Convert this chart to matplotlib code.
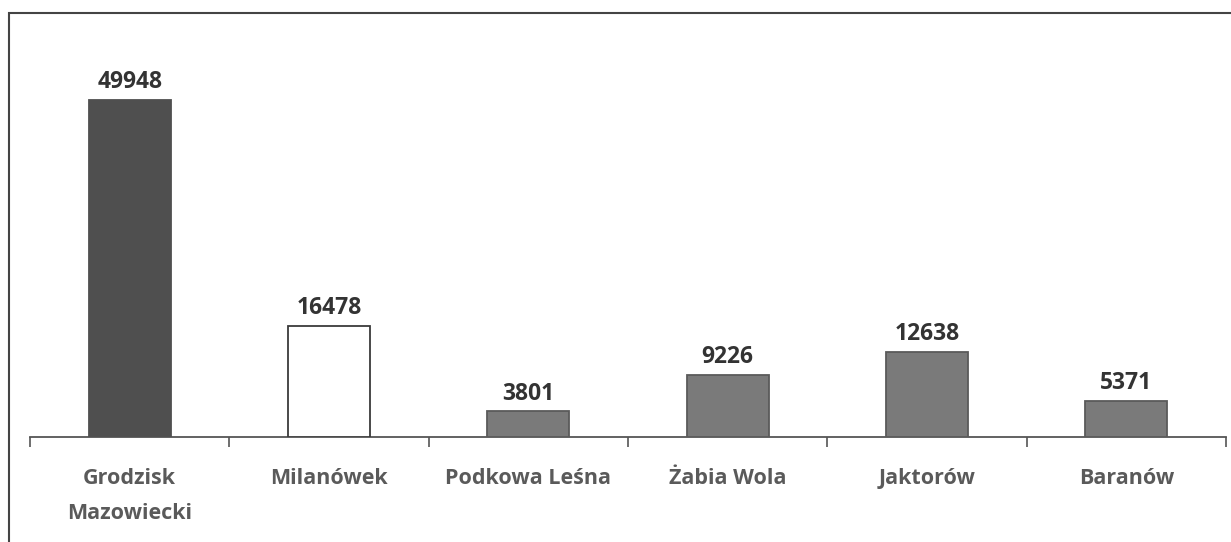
import matplotlib.pyplot as plt
from matplotlib.patches import Rectangle

categories = ["Grodzisk\nMazowiecki", "Milanówek", "Podkowa Leśna", "Żabia Wola", "Jaktorów", "Baranów"]
values = [49948, 16478, 3801, 9226, 12638, 5371]
bar_colors = ["#4f4f4f", "#ffffff", "#7a7a7a", "#7a7a7a", "#7a7a7a", "#7a7a7a"]
edge_colors = ["#4f4f4f", "#3a3a3a", "#5a5a5a", "#5a5a5a", "#5a5a5a", "#5a5a5a"]

plt.rcParams["font.family"] = ["Open Sans", "DejaVu Sans"]

fig = plt.figure(figsize=(12.31, 5.42), dpi=100)
ax = fig.add_axes([0.02437, 0.19373, 0.97157, 0.74723])

x = list(range(len(categories)))
bars = ax.bar(x, values, width=0.41, color=bar_colors, edgecolor=edge_colors, linewidth=1.3, zorder=3)

for b, v in zip(bars, values):
    ax.annotate(str(v), (b.get_x() + b.get_width() / 2, v), xytext=(0, 4),
                textcoords="offset points", ha="center", va="bottom",
                fontsize=16.5, fontweight="bold", color="#333333")

# category labels, one baseline per line under the axis
for i, name in zip(x, categories):
    for k, line in enumerate(name.split("\n")):
        ax.annotate(line, (i, 0), xycoords=("data", "axes fraction"), xytext=(0, -34 - 25 * k),
                    textcoords="offset points", ha="center", va="baseline",
                    fontsize=15.5, fontweight="bold", color="#5a5a5a")

ax.set_xlim(-0.5, len(categories) - 0.5)
ax.set_ylim(0, 60000)

# tick marks at the category boundaries
ax.set_xticks([i - 0.5 for i in range(len(categories) + 1)])
ax.set_xticklabels([])
ax.tick_params(axis="x", length=7, width=1.2, color="#555555", direction="out")
ax.set_yticks([])

for side in ["left", "right", "top"]:
    ax.spines[side].set_visible(False)
ax.spines["bottom"].set_color("#555555")
ax.spines["bottom"].set_linewidth(1.3)

# outer chart frame (cut off at right and bottom)
frame = Rectangle((9 / 1231, -0.05), 1.1, 1 - 13 / 542 + 0.05, transform=fig.transFigure,
                  fill=False, edgecolor="#444444", linewidth=1.5)
fig.patches.append(frame)

plt.savefig("out.png", dpi=100)
plt.close()
